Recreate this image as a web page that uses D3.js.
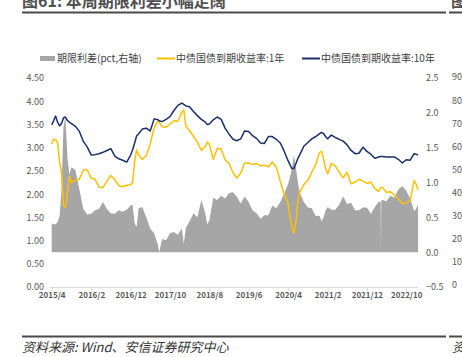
<!DOCTYPE html>
<html><head><meta charset="utf-8">
<script src="https://cdn.jsdelivr.net/npm/d3@7"></script>
<style>
body{margin:0;background:#fff;}
text{font-family:"Noto Sans CJK SC","Noto Sans",sans-serif;}
</style></head>
<body>
<svg id="c" width="462" height="357"></svg>
<script>
const dates = ["2015-04-01","2015-04-16","2015-05-01","2015-05-16","2015-06-01","2015-06-16","2015-07-01","2015-07-16","2015-08-01","2015-08-16","2015-09-01","2015-10-01","2015-11-01","2015-12-01","2016-01-01","2016-02-01","2016-03-01","2016-04-01","2016-05-01","2016-06-01","2016-07-01","2016-08-01","2016-09-01","2016-10-01","2016-11-01","2016-12-01","2016-12-16","2017-01-01","2017-01-16","2017-02-01","2017-03-01","2017-04-01","2017-05-01","2017-06-01","2017-07-01","2017-07-10","2017-08-01","2017-09-01","2017-10-01","2017-11-01","2017-12-01","2018-01-01","2018-01-16","2018-02-01","2018-03-01","2018-04-01","2018-05-01","2018-06-01","2018-07-01","2018-07-16","2018-08-01","2018-09-01","2018-10-01","2018-11-01","2018-12-01","2019-01-01","2019-02-01","2019-03-01","2019-04-01","2019-05-01","2019-06-01","2019-07-01","2019-08-01","2019-09-01","2019-10-01","2019-11-01","2019-12-01","2020-01-01","2020-02-01","2020-03-01","2020-04-01","2020-04-16","2020-05-01","2020-05-16","2020-06-01","2020-06-16","2020-07-01","2020-08-01","2020-09-01","2020-10-01","2020-11-01","2020-12-01","2020-12-16","2021-01-01","2021-01-16","2021-02-01","2021-03-01","2021-04-01","2021-05-01","2021-06-01","2021-07-01","2021-08-01","2021-09-01","2021-10-01","2021-11-01","2021-12-01","2022-01-01","2022-02-01","2022-03-01","2022-03-18","2022-03-20","2022-03-22","2022-04-01","2022-05-01","2022-06-01","2022-07-01","2022-08-01","2022-09-01","2022-10-01","2022-11-01","2022-12-01","2022-12-16","2023-01-01"];
const yield10y = [3.49,3.58,3.68,3.55,3.47,3.52,3.64,3.66,3.58,3.55,3.52,3.46,3.35,3.14,3.01,2.84,2.85,2.87,2.90,2.94,2.98,2.82,2.76,2.73,2.69,2.84,2.95,3.10,3.25,3.30,3.40,3.42,3.36,3.62,3.60,3.58,3.56,3.61,3.67,3.80,3.91,3.96,3.93,3.90,3.88,3.78,3.69,3.61,3.55,3.50,3.51,3.60,3.66,3.61,3.42,3.29,3.18,3.15,3.19,3.36,3.35,3.26,3.20,3.10,3.09,3.24,3.24,3.18,3.10,2.93,2.72,2.63,2.55,2.55,2.66,2.77,2.85,3.03,3.11,3.19,3.24,3.30,3.33,3.30,3.24,3.19,3.27,3.22,3.18,3.14,3.06,2.94,2.87,2.88,3.01,2.92,2.86,2.77,2.80,2.81,2.81,2.81,2.81,2.80,2.80,2.80,2.75,2.67,2.74,2.73,2.87,2.86,2.84];
const yield1y = [3.08,3.18,3.17,3.12,2.70,2.45,1.75,1.72,2.05,2.38,2.25,2.30,2.32,2.52,2.52,2.34,2.32,2.15,2.14,2.28,2.40,2.31,2.18,2.16,2.19,2.20,2.25,2.70,2.95,2.84,2.75,2.83,3.08,3.43,3.57,3.55,3.45,3.44,3.51,3.58,3.57,3.76,3.81,3.46,3.37,3.24,3.12,2.94,3.02,3.12,3.08,2.75,2.98,2.97,2.74,2.66,2.46,2.35,2.45,2.67,2.67,2.64,2.66,2.61,2.62,2.59,2.69,2.58,2.27,2.00,1.80,1.50,1.28,1.16,1.41,1.84,2.05,2.20,2.30,2.47,2.64,2.90,2.92,2.75,2.55,2.44,2.66,2.61,2.47,2.35,2.47,2.22,2.26,2.32,2.28,2.23,2.26,2.12,2.06,2.14,2.15,2.15,2.14,2.04,2.05,1.98,1.90,1.80,1.81,1.86,2.29,2.22,2.09];
const spread = [0.41,0.40,0.40,0.43,0.52,0.90,1.80,1.94,1.35,1.12,1.22,1.18,0.90,0.62,0.54,0.55,0.60,0.62,0.72,0.62,0.56,0.55,0.60,0.58,0.61,0.67,0.68,0.42,0.36,0.63,0.65,0.50,0.34,0.27,0.10,0.00,0.19,0.17,0.27,0.29,0.25,0.34,0.12,0.35,0.44,0.56,0.50,0.75,0.56,0.40,0.45,0.78,0.75,0.81,0.77,0.85,0.86,0.80,0.70,0.80,0.72,0.60,0.56,0.48,0.53,0.53,0.67,0.63,0.72,0.84,0.98,1.08,1.20,1.39,1.20,1.00,0.85,0.72,0.64,0.63,0.52,0.52,0.44,0.50,0.60,0.65,0.61,0.61,0.68,0.80,0.69,0.71,0.60,0.60,0.64,0.64,0.55,0.65,0.72,0.72,0.00,0.74,0.75,0.73,0.81,0.78,0.90,0.95,0.88,0.77,0.59,0.62,0.68];
const xTickDates = ["2015-04-01","2016-02-01","2016-12-01","2017-10-01","2018-08-01","2019-06-01","2020-04-01","2021-02-01","2021-12-01","2022-10-01"];
const xTickLabels = ["2015/4","2016/2","2016/12","2017/10","2018/8","2019/6","2020/4","2021/2","2021/12","2022/10"];
const leftTicks = [0,0.5,1,1.5,2,2.5,3,3.5,4,4.5];
const rightTicks = [-0.5,0,0.5,1,1.5,2,2.5];
const nextChartTicks = [0,10,20,30,40,50,60,70,80,90];
const legendLabels = ["期限利差(pct,右轴)","中债国债到期收益率:1年","中债国债到期收益率:10年"];
const titleText = "图61: 本周期限利差小幅走阔";
const sourceText = "资料来源: Wind、安信证券研究中心";

const parse = d3.timeParse("%Y-%m-%d");
const data = dates.map((d,i)=>({date:parse(d), y10:yield10y[i], y1:yield1y[i], sp:spread[i]}));

const svg = d3.select("#c");
const x = d3.scaleTime().domain([parse("2015-04-01"), parse("2023-01-01")]).range([51.7, 418.1]);
const yL = d3.scaleLinear().domain([0,4.5]).range([287,78]);
const yR = d3.scaleLinear().domain([-0.5,2.5]).range([287,78]);
const yN = d3.scaleLinear().domain([0,90]).range([285,77]);

const cGray="#a6a6a6", cYel="#ffc000", cNavy="#1a2f6b", cTxt="#595959";

// title
svg.append("text").attr("x",22).attr("y",7).attr("font-size",16).attr("font-weight",700)
  .attr("fill","#505050").text(titleText);
svg.append("text").attr("x",451).attr("y",7).attr("font-size",16).attr("font-weight",700)
  .attr("fill","#505050").text("图");
svg.append("rect").attr("x",22).attr("y",11.5).attr("width",424).attr("height",2).attr("fill","#4a4a4a");
svg.append("rect").attr("x",449).attr("y",11.5).attr("width",13).attr("height",2).attr("fill","#4a4a4a");

// legend
const lg = svg.append("g");
lg.append("rect").attr("x",40).attr("y",56).attr("width",15).attr("height",5).attr("fill",cGray);
lg.append("text").attr("x",57).attr("y",61.5).attr("font-size",10).attr("fill","#404040").text(legendLabels[0]);
lg.append("line").attr("x1",157).attr("x2",175).attr("y1",58.5).attr("y2",58.5).attr("stroke",cYel).attr("stroke-width",2);
lg.append("text").attr("x",176).attr("y",61.5).attr("font-size",10).attr("fill","#404040").text(legendLabels[1]);
lg.append("line").attr("x1",302).attr("x2",320).attr("y1",58.5).attr("y2",58.5).attr("stroke",cNavy).attr("stroke-width",2);
lg.append("text").attr("x",321).attr("y",61.5).attr("font-size",10).attr("fill","#404040").text(legendLabels[2]);

// area
const area = d3.area().x(d=>x(d.date)).y0(yR(0)).y1(d=>yR(d.sp));
svg.append("path").datum(data).attr("d",area).attr("fill",cGray);

// x axis
const xAxis = d3.axisBottom(x).tickValues(xTickDates.map(parse))
  .tickFormat((d,i)=>xTickLabels[i]).tickSize(4).tickSizeOuter(0);
const gx = svg.append("g").attr("transform","translate(0,287)").call(xAxis);
gx.select(".domain").attr("stroke","#d9d9d9").attr("d","M50,0.5H418");
gx.selectAll(".tick line").attr("stroke","#d9d9d9");
gx.selectAll(".tick text").attr("fill",cTxt).attr("font-size",8).attr("font-weight",700)
  .attr("font-family","'Noto Sans',sans-serif").attr("dy","0.55em");

// left axis
const gl = svg.append("g").attr("transform","translate(44,0)")
  .call(d3.axisLeft(yL).tickValues(leftTicks).tickFormat(d3.format(".2f")).tickSize(0).tickPadding(0));
gl.select(".domain").remove();
gl.selectAll("text").attr("fill",cTxt).attr("font-size",9).attr("font-family","'Noto Sans',sans-serif");

// right axis
const gr = svg.append("g").attr("transform","translate(426,0)")
  .call(d3.axisRight(yR).tickValues(rightTicks).tickFormat(d3.format(".1f")).tickSize(0).tickPadding(0));
gr.select(".domain").remove();
gr.selectAll("text").attr("fill",cTxt).attr("font-size",9).attr("font-family","'Noto Sans',sans-serif");

// partial next chart axis
const gn = svg.append("g").attr("transform","translate(452,0)")
  .call(d3.axisRight(yN).tickValues(nextChartTicks).tickSize(0).tickPadding(0));
gn.select(".domain").remove();
gn.selectAll("text").attr("fill",cTxt).attr("font-size",9).attr("font-family","'Noto Sans',sans-serif");

// lines
const l1 = d3.line().x(d=>x(d.date)).y(d=>yL(d.y1));
const l10 = d3.line().x(d=>x(d.date)).y(d=>yL(d.y10));
svg.append("path").datum(data).attr("d",l1).attr("fill","none").attr("stroke",cYel).attr("stroke-width",1.5).attr("stroke-linejoin","round");
svg.append("path").datum(data).attr("d",l10).attr("fill","none").attr("stroke",cNavy).attr("stroke-width",1.5).attr("stroke-linejoin","round");

// footer
svg.append("rect").attr("x",22).attr("y",335.5).attr("width",424).attr("height",2).attr("fill","#4a4a4a");
svg.append("rect").attr("x",449).attr("y",335.5).attr("width",13).attr("height",2).attr("fill","#4a4a4a");
svg.append("text").attr("x",22).attr("y",352).attr("font-size",13).attr("font-style","italic")
  .attr("fill","#333").text(sourceText);
svg.append("text").attr("x",452).attr("y",352).attr("font-size",13).attr("font-style","italic")
  .attr("fill","#333").text("资");
</script>
</body></html>
